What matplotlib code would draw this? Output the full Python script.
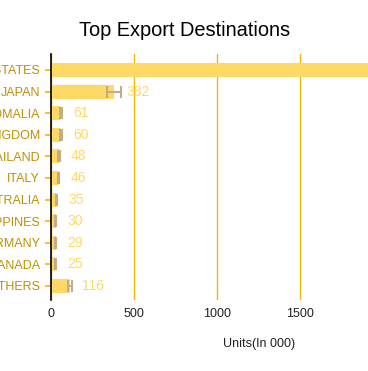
import matplotlib
matplotlib.use("Agg")
import matplotlib.pyplot as plt
import numpy as np

plt.rcParams['font.family'] = ['Liberation Sans', 'DejaVu Sans']

countries = ['UNITED STATES', 'JAPAN', 'SOMALIA', 'UNITED KINGDOM', 'THAILAND',
             'ITALY', 'AUSTRALIA', 'PHILIPPINES', 'GERMANY', 'CANADA', 'OTHERS']
units = [2100, 382, 61, 60, 48, 46, 35, 30, 29, 25, 116]
errors = [60, 42, 6, 6, 5, 5, 4, 3, 3, 3, 12]

fig = plt.figure(figsize=(3.68, 3.71), dpi=100)
ax = fig.add_axes([51/368, 71/371, 317/368, 246/371])

pos = np.arange(len(countries))
ax.barh(pos, units, height=0.65, color='#FFD966', zorder=2)
ax.errorbar(units, pos, xerr=errors, fmt='none', ecolor='#BFAE86',
            elinewidth=1.5, capsize=4.3, capthick=1.5, zorder=3)

for p, v in zip(pos, units):
    ax.annotate(str(v), (v, p), xytext=(8.5, 0), textcoords='offset points',
                va='center', ha='left', color='#FFD966', fontsize=10, zorder=4)

ax.set_xlim(0, 1910)
ax.set_ylim(10.65, -0.74)
ax.set_xticks([0, 500, 1000, 1500])
ax.set_yticks(pos)
ax.set_yticklabels(countries)

ax.grid(axis='x', color='#F2B705', linewidth=1, zorder=1)
ax.set_axisbelow(True)
for s in ['top', 'right', 'bottom']:
    ax.spines[s].set_visible(False)
ax.spines['left'].set_color('black')
ax.spines['left'].set_linewidth(1.2)
ax.spines['left'].set_zorder(5)

ax.tick_params(axis='y', direction='inout', length=8.6, width=1.2,
               color='#F2B705', labelcolor='#BF9000', labelsize=9, pad=3.6)
ax.tick_params(axis='x', length=0, labelcolor='#222222', labelsize=9, pad=6)

ax.set_xlabel('Units(In 000)', fontsize=9, color='#222222')
ax.xaxis.set_label_coords((259 - 51) / 317, -(338 - 300) / 246)

fig.text(185/368, 1 - 31/371, 'Top Export Destinations', ha='center', va='center',
         fontsize=14.4, color='black')

fig.savefig('out.png', dpi=100)
